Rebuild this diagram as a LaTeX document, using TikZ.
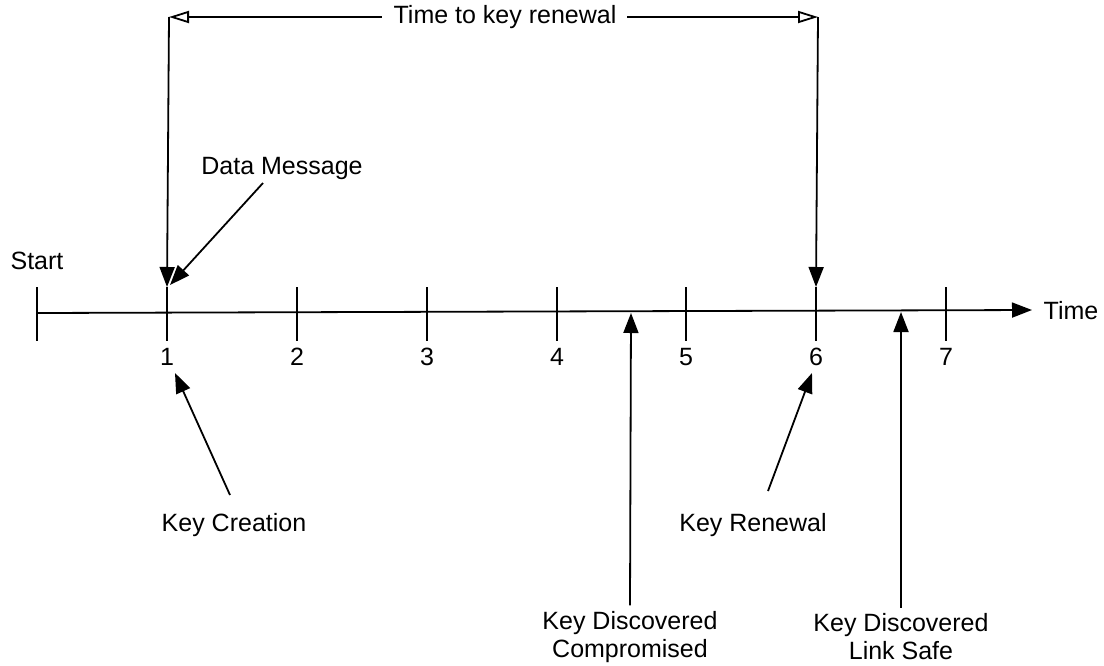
\documentclass[tikz,border=0pt]{standalone}
\usepackage{fontspec}
\setmainfont{Liberation Sans}
\usetikzlibrary{arrows.meta}

\begin{document}
\begin{tikzpicture}[x=1pt,y=-1pt,line width=1.8pt,
    lbl/.style={inner sep=0pt,align=center,font=\fontsize{25}{28}\selectfont},
    pointer/.style={-{Triangle[length=20pt,width=15pt]}},
    span/.style={-{Triangle[open,length=20pt,width=12pt]}}]

            \useasboundingbox (0,0) rectangle (1104,665);

            % time axis
            \coordinate (s) at (37,313);
            \coordinate (e) at (1032,310);
            \draw[pointer] (s) -- (e);

            \coordinate (tk0) at (37,287);
            \coordinate (tk1) at (167,287);
            \coordinate (tk2) at (297,287);
            \coordinate (tk3) at (427,287);
            \coordinate (tk4) at (557,287);
            \coordinate (tk5) at (686,287);
            \coordinate (tk6) at (816,287);
            \coordinate (tk7) at (946,287);
            \draw (tk0) -- ++(0,54) (tk1) -- ++(0,54) (tk2) -- ++(0,54) (tk3) -- ++(0,54) (tk4) -- ++(0,54) (tk5) -- ++(0,54) (tk6) -- ++(0,54) (tk7) -- ++(0,54);

            \node[lbl] (start) at (37,261) {Start};
            \node[lbl] (time) at (1071,311) {Time};
            \node[lbl] (n1) at (167,357) {1};
            \node[lbl] (n2) at (297,357) {2};
            \node[lbl] (n3) at (427,357) {3};
            \node[lbl] (n4) at (557,357) {4};
            \node[lbl] (n5) at (686,357) {5};
            \node[lbl] (n6) at (816,357) {6};
            \node[lbl] (n7) at (946,357) {7};

            % time to key renewal
            \node[lbl] (ttr) at (505,17) {Time to key renewal};
            \coordinate (topl) at (169,17);
            \coordinate (topr) at (818,17);
            \draw[span] ([xshift=-11pt]ttr.west) -- (topl);
            \draw[span] ([xshift=10pt]ttr.east) -- (topr);
            \draw[pointer] (topl) -- (tk1);
            \draw[pointer] (topr) -- (tk6);

            % events
            \node[lbl] (dm) at (282,168) {Data Message};
            \node[lbl] (kc) at (234,525) {Key Creation};
            \node[lbl] (kr) at (753,525) {Key Renewal};
            \node[lbl] (kdc) at (630,637) {Key Discovered\\Compromised};
            \node[lbl] (kds) at (901,637) {Key Discovered\\Link Safe};

            \coordinate (dmt) at (263,183);
            \coordinate (dmh) at (170,285);
            \coordinate (kct) at (230,495);
            \coordinate (kch) at (175,373);
            \coordinate (krt) at (768,491);
            \coordinate (krh) at (812,373);
            \coordinate (kdch) at (631,313);
            \coordinate (kdsh) at (901,312);
            \draw[pointer] (dmt) -- (dmh);
            \draw[pointer] (kct) -- (kch);
            \draw[pointer] (krt) -- (krh);
            \draw[pointer] ([yshift=5pt]kdc.north) -- (kdch);
            \draw[pointer] ([yshift=5pt]kds.north) -- (kdsh);

            \end{tikzpicture}
\end{document}
